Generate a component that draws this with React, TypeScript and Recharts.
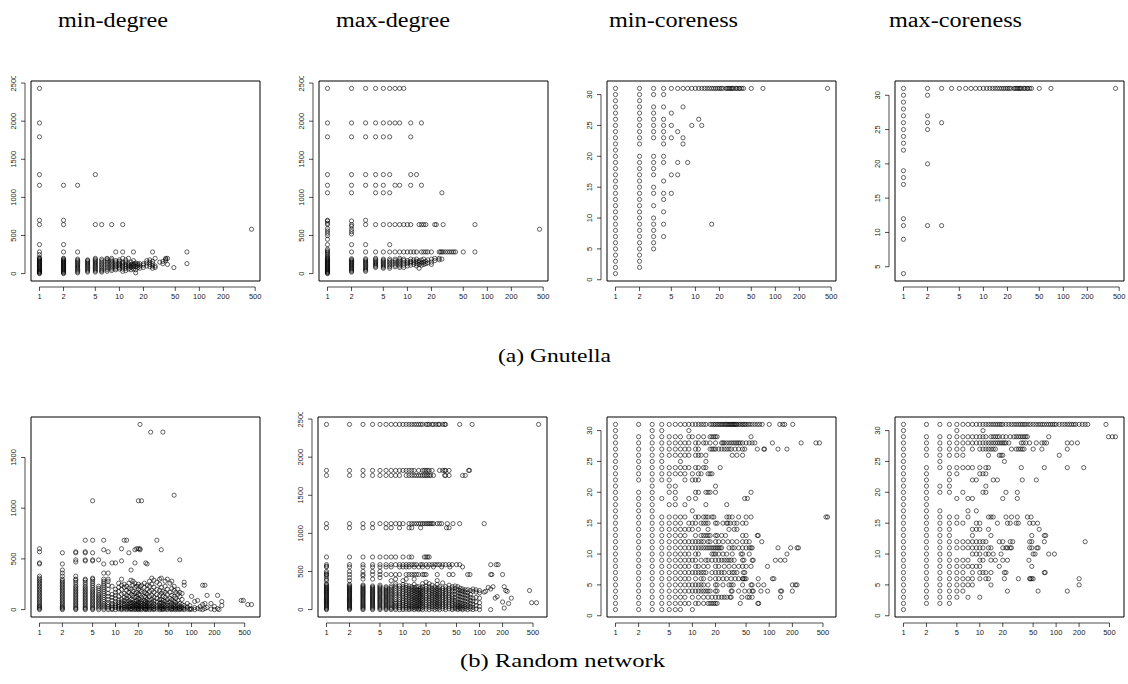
import React from 'react';
import { ScatterChart, Scatter, XAxis, YAxis, ReferenceArea, ReferenceLine } from 'recharts';

type Pt = { x: number; y: number };
type Group = [number, number[]];

// column groups: [x, ys], row groups: [y, xs]
const cols = (g: Group[]): Pt[] => g.flatMap(([x, ys]) => ys.map((y) => ({ x, y })));
const rows = (g: Group[]): Pt[] => g.flatMap(([y, xs]) => xs.map((x) => ({ x, y })));

const xTicks = [1, 2, 5, 10, 20, 50, 100, 200, 500];
const degreeTicks = [0, 500, 1000, 1500, 2000, 2500];
const degreeTicksLow = [0, 500, 1000, 1500];
const corenessTicks = [0, 5, 10, 15, 20, 25, 30];
const corenessTicksHigh = [5, 10, 15, 20, 25, 30];

const titles = ['min-degree', 'max-degree', 'min-coreness', 'max-coreness'];

// ---- (a) Gnutella ----
const gnuMinDegree: Group[] = [
  [1, [0, 8, 16, 24, 32, 40, 50, 60, 70, 80, 90, 100, 110, 120, 130, 140, 150, 160, 170, 180, 190, 200, 210, 249, 284, 381, 643, 700, 1159, 1299, 1794, 1977, 2430]],
  [2, [0, 10, 20, 30, 40, 50, 60, 70, 80, 90, 100, 110, 120, 130, 140, 150, 160, 170, 180, 190, 200, 284, 381, 643, 700, 1159]],
  [3, [10, 25, 40, 55, 70, 85, 100, 115, 130, 145, 160, 175, 190, 284, 1159]],
  [4, [20, 35, 50, 65, 80, 95, 110, 125, 140, 155, 170, 180]],
  [5, [20, 35, 50, 65, 80, 95, 110, 125, 140, 155, 170, 185, 200, 643, 1299]],
  [6, [20, 35, 50, 70, 90, 110, 130, 150, 170, 190, 643]],
  [7, [30, 50, 70, 90, 110, 130, 150, 170, 190, 200]],
  [8, [40, 60, 80, 100, 120, 140, 160, 180, 200, 643]],
  [9, [50, 70, 90, 110, 130, 150, 170, 284]],
  [10, [60, 80, 100, 120, 140, 160, 180]],
  [11, [30, 60, 90, 110, 130, 150, 200, 284, 643]],
  [12, [40, 70, 100, 120, 150, 180]],
  [13, [60, 90, 110, 130, 200]],
  [14, [50, 80, 100, 120, 150]],
  [15, [60, 90, 110, 130, 170, 284]],
  [16, [10, 50, 90, 120, 140]],
  [17, [80, 110, 130]],
  [18, [70, 100, 130]],
  [20, [80, 110, 130]],
  [22, [100, 140, 170]],
  [24, [90, 120, 150, 180]],
  [26, [70, 100, 130, 160, 284]],
  [28, [80, 100, 200]],
  [32, [150]],
  [35, [130, 160]],
  [38, [170, 190, 200]],
  [40, [120, 200]],
  [48, [79]],
  [70, [131, 284]],
  [450, [582]],
];

const gnuMaxDegreeRows: Group[] = [
  [2430, [1, 2, 3, 4, 5, 6, 7, 8, 9]],
  [1977, [1, 2, 3, 4, 5, 6, 7, 8, 11, 15]],
  [1794, [1, 2, 3, 4, 5, 6, 11]],
  [1299, [1, 2, 3, 4, 5, 6, 11, 13]],
  [1159, [1, 2, 3, 4, 5, 7, 8, 11, 15]],
  [1060, [1, 2, 4, 5, 6, 27]],
  [643, [1, 2, 3, 4, 5, 6, 7, 8, 9, 10, 11, 14, 15, 16, 17, 22, 23, 28, 70]],
  [582, [450]],
  [284, [1, 2, 3, 4, 5, 6, 7, 8, 9, 10, 11, 12, 13, 15, 16, 17, 18, 20, 25, 26, 27, 28, 30, 32, 34, 36, 38, 40, 50, 70]],
];
const gnuMaxDegreeCols: Group[] = [
  [1, [0, 8, 16, 25, 34, 43, 52, 62, 72, 82, 92, 102, 112, 122, 132, 142, 152, 162, 172, 182, 192, 202, 215, 230, 250, 270, 300, 320, 380, 450, 500, 530, 560, 590, 660, 690, 700]],
  [2, [20, 32, 45, 58, 70, 82, 95, 108, 120, 132, 145, 158, 170, 182, 195, 380, 520, 550, 580, 620, 690]],
  [3, [30, 45, 60, 75, 90, 105, 120, 135, 150, 165, 180, 195, 380, 700]],
  [4, [80, 95, 110, 125, 140, 155, 170, 185, 200]],
  [5, [70, 85, 100, 115, 130, 145, 160, 175, 190]],
  [6, [70, 90, 110, 130, 150, 170, 190, 380]],
  [7, [90, 110, 130, 150, 170, 190]],
  [8, [80, 100, 120, 140, 160, 180, 200]],
  [9, [80, 110, 140, 170, 190]],
  [10, [100, 130, 150, 170]],
  [11, [110, 140, 160, 190]],
  [12, [120, 150, 180]],
  [13, [100, 130, 160, 190]],
  [14, [70, 120, 150, 170]],
  [15, [110, 140, 180]],
  [16, [120, 150, 190]],
  [17, [130, 160]],
  [18, [140, 180]],
  [20, [120, 150, 190]],
  [22, [170, 200]],
  [25, [180, 200]],
  [27, [190]],
];

const gnuMinCoreness: Group[] = [
  [1, [1, 2, 3, 4, 5, 6, 7, 8, 9, 10, 11, 12, 13, 14, 15, 16, 17, 18, 19, 20, 21, 22, 23, 24, 25, 26, 27, 28, 29, 30, 31]],
  [2, [2, 3, 4, 5, 6, 7, 8, 9, 10, 11, 12, 13, 14, 15, 16, 17, 18, 19, 20, 22, 23, 24, 25, 26, 27, 28, 29, 30, 31]],
  [3, [5, 6, 7, 8, 9, 10, 12, 14, 15, 17, 18, 19, 20, 23, 24, 25, 26, 27, 28, 30, 31]],
  [4, [7, 9, 11, 13, 14, 16, 19, 20, 22, 23, 24, 25, 26, 28, 30, 31]],
  [5, [14, 17, 23, 25, 27, 31]],
  [6, [17, 19, 24, 31]],
  [7, [22, 23, 28, 31]],
  [8, [19, 31]],
  [9, [25, 31]],
  [10, [31]],
  [11, [26, 31]],
  [12, [25, 31]],
  [16, [9, 31]],
];
const gnuMinCorenessTop: Group[] = [
  [31, [13, 14, 15, 17, 18, 19, 20, 21, 22, 24, 25, 26, 27, 28, 29, 30, 32, 33, 35, 36, 38, 40, 50, 70, 450]],
];

const gnuMaxCoreness: Group[] = [
  [1, [4, 9, 11, 12, 17, 18, 19, 22, 23, 24, 25, 26, 27, 28, 29, 30, 31]],
  [2, [11, 20, 25, 26, 27, 30, 31]],
  [3, [11, 26, 31]],
];
const gnuMaxCorenessTop: Group[] = [
  [31, [4, 5, 6, 7, 8, 9, 10, 11, 12, 13, 14, 15, 16, 17, 18, 19, 20, 21, 22, 24, 25, 26, 27, 28, 29, 30, 32, 33, 35, 36, 38, 40, 50, 70, 450]],
];

// ---- (b) Random network ----
const rndMinDegree: Group[] = [
  [1, [0, 10, 20, 30, 40, 55, 70, 85, 100, 115, 130, 145, 160, 175, 190, 205, 220, 235, 250, 265, 280, 295, 310, 330, 450, 460, 570, 600]],
  [2, [0, 10, 20, 30, 45, 60, 75, 90, 105, 120, 135, 150, 165, 180, 195, 210, 225, 240, 255, 270, 285, 300, 330, 360, 390, 450, 560]],
  [3, [0, 10, 20, 35, 50, 65, 80, 95, 110, 125, 140, 155, 170, 185, 200, 215, 230, 250, 270, 290, 300, 330, 470, 490, 560, 570]],
  [4, [0, 10, 20, 35, 50, 65, 80, 95, 110, 125, 140, 155, 170, 185, 200, 215, 230, 250, 270, 290, 300, 480, 490, 560, 570, 684]],
  [5, [0, 10, 20, 35, 50, 65, 80, 95, 110, 125, 140, 155, 170, 185, 200, 220, 240, 260, 280, 300, 310, 480, 490, 560, 684, 1073]],
  [6, [0, 15, 30, 45, 60, 75, 90, 105, 120, 135, 150, 170, 190, 210, 230, 490]],
  [7, [0, 15, 30, 45, 60, 80, 100, 120, 140, 160, 180, 200, 220, 240, 260, 280, 300, 360, 450, 590, 684]],
  [8, [0, 15, 30, 50, 70, 100, 130, 160, 200, 240, 280, 300, 360, 570]],
  [9, [0, 10, 25, 40, 60, 90, 120, 150, 230, 460]],
  [10, [0, 20, 35, 55, 80, 110, 140, 170, 200, 460]],
  [11, [5, 15, 30, 45, 70, 95, 130, 180, 220, 260]],
  [12, [0, 10, 25, 50, 75, 100, 150, 200, 240, 300, 480, 600]],
  [13, [5, 20, 40, 60, 90, 120, 160, 220, 250, 684]],
  [14, [0, 15, 30, 55, 80, 110, 140, 190, 230, 684]],
  [15, [5, 20, 35, 60, 85, 130, 170, 210, 260, 560]],
  [16, [0, 10, 30, 50, 70, 100, 150, 200, 290, 390]],
  [17, [5, 25, 45, 65, 95, 140, 180, 240, 280]],
  [18, [0, 15, 35, 55, 80, 120, 160, 220, 260, 460, 590]],
  [19, [5, 20, 40, 60, 90, 130, 170, 230, 600]],
  [20, [0, 10, 30, 50, 75, 110, 150, 200, 250, 600, 1073]],
  [21, [5, 25, 45, 70, 100, 140, 190, 230, 590, 600, 1826]],
  [22, [0, 15, 35, 60, 85, 120, 180, 240, 1073]],
  [24, [5, 20, 40, 65, 90, 130, 170, 220, 260]],
  [25, [0, 10, 30, 55, 80, 120, 160, 460]],
  [26, [5, 25, 45, 70, 100, 150, 200, 240, 450]],
  [28, [0, 15, 35, 60, 90, 130, 180, 230, 280]],
  [29, [1750]],
  [30, [5, 20, 40, 70, 100, 140, 190, 250, 310]],
  [32, [0, 10, 30, 55, 85, 120, 170, 220, 290]],
  [35, [5, 25, 45, 75, 110, 150, 200, 270, 684]],
  [38, [0, 15, 35, 60, 95, 140, 190, 250, 300]],
  [40, [5, 20, 40, 70, 100, 160, 220, 310, 590]],
  [42, [0, 10, 30, 55, 90, 130, 180, 1750]],
  [45, [5, 25, 50, 80, 120, 170, 230, 280]],
  [48, [0, 15, 40, 65, 100, 150, 200, 300]],
  [52, [5, 20, 45, 75, 110, 170, 260]],
  [55, [0, 10, 30, 60, 95, 140, 210, 280]],
  [59, [5, 25, 50, 80, 130, 190, 230, 1128]],
  [62, [0, 15, 35, 70, 110, 170]],
  [66, [5, 20, 45, 90, 150, 200]],
  [70, [0, 10, 30, 60, 130, 170, 490]],
  [75, [5, 20, 50, 100, 160]],
  [80, [0, 15, 40, 240, 270]],
  [88, [5, 25, 60]],
  [95, [0, 10, 40]],
  [100, [5, 130]],
  [110, [0, 20, 80]],
  [120, [10, 90]],
  [130, [5, 30]],
  [140, [0, 50, 240]],
  [150, [10, 60, 240]],
  [160, [20, 140]],
  [180, [5, 60]],
  [200, [0, 30]],
  [220, [10, 140]],
  [230, [0]],
  [250, [40, 80]],
  [450, [90]],
  [480, [90]],
  [550, [50]],
  [615, [50]],
];

const rndMaxDegreeRows: Group[] = [
  [2430, [1, 2, 3, 4, 5, 6, 7, 8, 9, 10, 11, 12, 13, 14, 15, 16, 17, 18, 20, 21, 22, 24, 25, 27, 29, 30, 33, 35, 36, 55, 80, 590]],
  [1826, [1, 2, 3, 4, 5, 6, 7, 8, 9, 10, 11, 12, 13, 14, 16, 18, 19, 20, 21, 22, 24, 30, 33, 35, 36, 40, 72, 74]],
  [1760, [1, 2, 3, 4, 5, 6, 7, 8, 9, 11, 12, 13, 14, 15, 16, 17, 18, 19, 20, 21, 22, 23, 25, 35, 36, 40, 60, 65]],
  [1128, [1, 2, 3, 4, 5, 6, 7, 8, 9, 10, 12, 13, 14, 15, 16, 17, 18, 19, 20, 21, 22, 23, 24, 25, 28, 30, 32, 38, 45, 55, 115]],
  [1073, [1, 2, 3, 4, 6, 7, 9, 12, 13, 17, 37, 40]],
  [690, [1, 2, 3, 4, 5, 6, 7, 8, 10, 12, 13, 19, 20, 21, 22]],
  [590, [1, 2, 3, 4, 5, 6, 7, 8, 9, 10, 11, 12, 13, 14, 15, 17, 18, 20, 22, 24, 26, 28, 30, 33, 36, 40, 44, 50, 55, 140, 165, 175]],
  [560, [1, 2, 3, 4, 5, 6, 7, 9, 10, 11, 12, 14, 16, 18, 21, 25, 32, 41, 60]],
  [460, [1, 2, 3, 4, 5, 6, 7, 8, 9, 11, 12, 13, 14, 15, 16, 18, 19, 20, 28, 40, 45, 70, 75, 140, 145, 200]],
];
const rndMaxDegreeCols: Group[] = [
  [1, [0, 10, 22, 34, 46, 58, 70, 82, 94, 106, 118, 130, 142, 154, 166, 178, 190, 202, 214, 226, 238, 250, 262, 274, 286, 298, 312, 326, 340, 380, 400, 430, 455, 480, 500, 570]],
  [2, [0, 12, 24, 36, 48, 60, 72, 84, 96, 108, 120, 132, 144, 156, 168, 180, 192, 204, 216, 228, 240, 252, 264, 276, 288, 300, 315, 330, 380, 420, 500]],
  [3, [0, 14, 28, 42, 56, 70, 84, 98, 112, 126, 140, 154, 168, 182, 196, 210, 224, 238, 252, 266, 280, 294, 308, 322, 400, 440, 500]],
  [4, [0, 14, 28, 42, 56, 70, 84, 98, 112, 126, 140, 154, 168, 182, 196, 210, 224, 238, 252, 266, 280, 294, 310, 400, 500]],
  [5, [0, 15, 30, 45, 60, 75, 90, 105, 120, 135, 150, 165, 180, 195, 210, 225, 240, 255, 270, 285, 300, 320, 420, 500]],
  [6, [0, 15, 30, 45, 60, 75, 90, 105, 120, 135, 150, 165, 180, 195, 210, 225, 240, 255, 270, 285, 300]],
  [7, [0, 15, 30, 50, 70, 90, 110, 130, 150, 170, 190, 210, 230, 250, 270, 290, 310, 380]],
  [8, [0, 20, 40, 60, 80, 100, 130, 160, 190, 220, 250, 280, 310, 340, 400]],
  [9, [0, 25, 50, 75, 100, 130, 160, 190, 220, 250, 280, 310]],
  [10, [0, 20, 45, 70, 95, 120, 150, 180, 210, 240, 270, 300, 330, 380]],
  [11, [5, 30, 55, 80, 110, 140, 170, 200, 230, 260, 290, 320, 400]],
  [12, [0, 20, 45, 70, 100, 130, 160, 190, 220, 250, 280, 310]],
  [13, [10, 35, 60, 90, 120, 150, 180, 210, 240, 270, 300]],
  [14, [0, 25, 50, 80, 110, 140, 170, 200, 230, 260, 290, 330, 400]],
  [15, [10, 35, 60, 90, 120, 150, 180, 210, 240, 270, 300]],
  [16, [0, 20, 50, 80, 110, 140, 170, 200, 230, 260, 300]],
  [17, [10, 40, 70, 100, 130, 160, 190, 220, 250, 280]],
  [18, [0, 30, 60, 90, 120, 150, 180, 210, 240, 270, 300, 340]],
  [20, [5, 35, 65, 95, 125, 155, 185, 215, 245, 275, 305, 360]],
  [22, [0, 30, 60, 90, 120, 150, 180, 210, 240, 270, 300, 340]],
  [24, [10, 40, 70, 100, 130, 160, 190, 220, 250, 280, 320]],
  [26, [0, 30, 60, 90, 120, 150, 180, 210, 240, 270, 300]],
  [28, [10, 40, 70, 100, 130, 160, 190, 220, 250, 280, 330, 380]],
  [30, [0, 30, 60, 90, 120, 150, 180, 210, 240, 270, 300]],
  [33, [10, 40, 70, 100, 130, 160, 190, 220, 250, 280, 350]],
  [36, [0, 30, 60, 90, 120, 150, 180, 210, 240, 270, 300]],
  [40, [10, 40, 70, 100, 130, 160, 190, 220, 250, 280, 320]],
  [44, [0, 20, 50, 80, 110, 140, 170, 200, 240, 270, 300]],
  [48, [10, 30, 60, 90, 120, 160, 200, 240, 280, 310]],
  [52, [0, 20, 40, 70, 100, 140, 180, 220, 260, 300]],
  [56, [10, 30, 60, 90, 130, 170, 210, 250, 280]],
  [60, [0, 20, 50, 80, 120, 160, 200, 240, 270]],
  [65, [10, 40, 70, 110, 150, 190, 230, 260]],
  [70, [0, 30, 60, 100, 140, 180, 220, 260]],
  [76, [10, 40, 80, 120, 160, 200, 250]],
  [82, [0, 30, 70, 110, 150, 240, 270]],
  [90, [10, 50, 100, 160, 230, 260]],
  [100, [0, 40, 90, 150, 220, 250]],
  [115, [230]],
  [120, [240]],
  [130, [290]],
  [140, [0, 270]],
  [150, [300]],
  [160, [150]],
  [170, [170]],
  [200, [100]],
  [210, [20, 300]],
  [220, [250]],
  [230, [240]],
  [240, [80]],
  [260, [150]],
  [450, [250]],
  [480, [90]],
  [555, [90]],
];

const rndMinCoreness: Group[] = [
  [31, [1, 2, 3, 4, 5, 6, 7, 8, 9, 10, 11, 12, 13, 14, 15, 17, 18, 19, 20, 21, 22, 23, 24, 25, 26, 27, 28, 29, 30, 31, 32, 33, 34, 35, 36, 37, 38, 40, 42, 44, 46, 48, 50, 53, 56, 60, 65, 70, 75, 81, 100, 137, 150, 159, 202]],
  [30, [1, 3, 4, 9]],
  [29, [1, 2, 3, 4, 5, 6, 7, 9, 10, 12, 14, 17, 18, 19, 20, 21, 58]],
  [28, [1, 2, 3, 4, 5, 6, 7, 8, 9, 11, 12, 14, 15, 17, 20, 24, 25, 26, 28, 30, 32, 34, 36, 38, 40, 42, 45, 50, 55, 60, 65, 110, 260, 405, 450]],
  [27, [1, 2, 3, 4, 5, 6, 7, 8, 9, 11, 12, 17, 18, 19, 20, 22, 24, 26, 28, 30, 32, 36, 40, 45, 48, 70, 85, 87, 130, 170]],
  [26, [1, 2, 3, 4, 5, 6, 7, 8, 9, 11, 12, 13, 15, 33, 38, 45]],
  [25, [1, 2, 3, 4, 7, 15]],
  [24, [1, 2, 3, 4, 5, 6, 7, 8, 9, 11, 12, 14, 15, 23]],
  [23, [1, 2, 3, 4, 5, 6, 7, 8, 10, 12, 13, 16, 17, 18]],
  [22, [1, 2, 3, 4, 5, 8, 10, 11, 12]],
  [21, [1, 3, 5, 6, 20]],
  [20, [1, 2, 3, 5, 6, 11, 12, 15, 16, 17, 20, 58]],
  [19, [1, 2, 3, 4, 6, 9, 11, 48, 52]],
  [18, [1, 2, 3, 5, 6, 8, 15, 28]],
  [17, [1, 2, 3, 10]],
  [16, [1, 2, 3, 4, 5, 6, 7, 8, 11, 12, 14, 15, 16, 18, 19, 28, 30, 33, 40, 50, 58, 546, 573]],
  [15, [1, 2, 3, 4, 5, 6, 7, 9, 10, 11, 13, 14, 15, 16, 20, 21, 25, 28, 29, 31, 35, 38, 45, 50]],
  [14, [1, 2, 3, 4, 5, 6, 7, 8, 9, 10, 12, 16, 30, 35, 38]],
  [13, [1, 2, 3, 4, 5, 6, 7, 8, 11, 13, 14, 15, 16, 17, 20, 21, 24, 27, 45, 50, 70, 72]],
  [12, [1, 2, 3, 4, 5, 6, 7, 8, 9, 10, 11, 12, 13, 14, 16, 17, 20, 22, 25, 29, 33, 38, 45, 50, 55, 80]],
  [11, [1, 2, 3, 4, 5, 6, 7, 8, 9, 10, 11, 12, 13, 14, 15, 16, 17, 18, 19, 20, 21, 22, 23, 24, 30, 33, 35, 40, 45, 50, 55, 58, 60, 130, 190, 230, 240]],
  [10, [1, 2, 3, 4, 5, 6, 7, 8, 9, 11, 12, 18, 19, 20, 22, 25, 28, 33, 43, 45, 55, 170]],
  [9, [1, 2, 3, 4, 5, 6, 7, 8, 9, 10, 11, 13, 15, 16, 18, 20, 22, 24, 26, 28, 30, 32, 35, 45, 47, 60, 62, 120, 140, 160]],
  [8, [1, 2, 3, 4, 5, 6, 7, 8, 9, 11, 12, 14, 16, 20, 22, 26, 30, 35, 40, 45, 50, 58, 95]],
  [7, [1, 2, 3, 4, 5, 6, 7, 8, 9, 10, 11, 12, 13, 14, 15, 18, 20, 22, 24, 26, 30, 33, 35, 38, 46, 48]],
  [6, [1, 2, 3, 4, 5, 6, 7, 8, 9, 11, 13, 14, 17, 20, 22, 25, 28, 32, 36, 40, 45, 46, 48, 50, 72, 110, 115]],
  [5, [1, 2, 3, 4, 5, 6, 7, 8, 9, 10, 11, 12, 13, 14, 16, 20, 21, 25, 30, 32, 34, 45, 58, 60, 72, 85, 200, 220, 230]],
  [4, [1, 2, 3, 4, 5, 6, 7, 8, 9, 10, 11, 12, 13, 14, 15, 16, 17, 20, 21, 32, 33, 40, 48, 55, 60, 62, 78, 95, 140, 145, 200]],
  [3, [1, 2, 3, 4, 5, 6, 7, 8, 10, 12, 14, 16, 18, 20, 22, 24, 26, 28, 31, 32, 44, 52, 55, 60, 140]],
  [2, [1, 2, 3, 4, 5, 6, 7, 8, 9, 11, 12, 14, 16, 17, 18, 19, 20, 21, 42, 71, 73]],
  [1, [1, 2, 3, 4, 5, 6, 7, 10]],
];

const rndMaxCoreness: Group[] = [
  [31, [1, 2, 3, 4, 5, 6, 7, 8, 9, 10, 11, 12, 13, 14, 15, 16, 17, 18, 19, 20, 22, 24, 26, 28, 30, 32, 34, 36, 38, 40, 43, 46, 50, 54, 58, 62, 66, 70, 75, 80, 85, 90, 95, 100, 110, 120, 130, 140, 150, 160, 170, 180, 200, 220, 240, 260, 450]],
  [30, [1, 5, 11]],
  [29, [1, 2, 3, 4, 5, 6, 7, 8, 9, 10, 11, 12, 14, 15, 16, 17, 18, 20, 22, 25, 28, 30, 32, 34, 36, 38, 40, 42, 80, 485, 545, 600]],
  [28, [1, 2, 3, 4, 5, 6, 7, 8, 9, 10, 11, 12, 13, 14, 15, 16, 17, 18, 19, 20, 21, 22, 24, 35, 37, 40, 45, 55, 65, 70, 75, 140, 160, 190]],
  [27, [1, 2, 3, 4, 5, 6, 8, 10, 11, 12, 13, 14, 15, 16, 26, 30, 32, 34, 36, 38, 50, 65, 140]],
  [26, [1, 2, 3, 4, 5, 6, 13, 18, 19, 20, 110]],
  [25, [1, 3, 21]],
  [24, [1, 2, 3, 4, 5, 6, 7, 8, 10, 12, 13, 35, 70, 140, 230]],
  [23, [1, 2, 4, 5, 10, 11, 12]],
  [22, [1, 2, 4, 8, 9, 15, 17, 36, 55]],
  [21, [1, 2, 3, 4, 12]],
  [20, [1, 2, 3, 4, 6, 11, 12, 22, 31]],
  [19, [1, 2, 5, 7, 8, 20, 31]],
  [18, [1, 2]],
  [17, [1, 2, 3, 7, 9]],
  [16, [1, 2, 3, 4, 5, 7, 13, 14, 15, 22, 26, 31, 42, 47]],
  [15, [1, 2, 3, 4, 5, 6, 9, 10, 17, 23, 25, 30, 32, 45, 50, 57]],
  [14, [1, 2, 3, 4, 8, 9, 10, 13, 60]],
  [13, [1, 2, 3, 4, 8, 14, 48, 70, 73]],
  [12, [1, 2, 3, 4, 5, 6, 7, 8, 9, 10, 11, 12, 18, 20, 25, 27, 45, 48, 70, 240]],
  [11, [1, 2, 3, 4, 5, 6, 7, 8, 9, 10, 11, 13, 14, 20, 22, 23, 25, 26, 45, 48, 56, 58]],
  [10, [1, 2, 3, 4, 8, 9, 10, 12, 13, 15, 19, 50, 53, 80, 95]],
  [9, [1, 2, 3, 4, 5, 6, 7, 10, 11, 14, 16, 20, 23, 44]],
  [8, [1, 2, 3, 4, 5, 6, 7, 8, 9, 10, 18, 48]],
  [7, [1, 2, 3, 4, 5, 6, 8, 10, 11, 12, 14, 21, 22, 70, 72]],
  [6, [1, 2, 3, 4, 5, 6, 7, 8, 10, 12, 13, 21, 32, 45, 46, 48, 50, 200]],
  [5, [1, 2, 3, 4, 5, 6, 7, 8, 14, 200]],
  [4, [1, 2, 3, 4, 5, 6, 23, 58, 140]],
  [3, [1, 2, 3, 4, 5, 7, 10]],
  [2, [1, 2, 3, 4]],
  [1, [1]],
];

const panels = [
  { data: cols(gnuMinDegree), left: 31, top: 81, yTicks: degreeTicks },
  { data: [...rows(gnuMaxDegreeRows), ...cols(gnuMaxDegreeCols)], left: 319, top: 81, yTicks: degreeTicks },
  { data: [...cols(gnuMinCoreness), ...rows(gnuMinCorenessTop)], left: 607, top: 81, yTicks: corenessTicks },
  { data: [...cols(gnuMaxCoreness), ...rows(gnuMaxCorenessTop)], left: 895, top: 81, yTicks: corenessTicksHigh },
  { data: cols(rndMinDegree), left: 31, top: 417, yTicks: degreeTicksLow },
  { data: [...rows(rndMaxDegreeRows), ...cols(rndMaxDegreeCols)], left: 318, top: 417, yTicks: degreeTicks },
  { data: rows(rndMinCoreness), left: 607, top: 417, yTicks: corenessTicks },
  { data: rows(rndMaxCoreness), left: 895, top: 417, yTicks: corenessTicks },
];

const BOX_W = 229;
const BOX_H = 200;
const Y_W = 30;
const X_H = 30;
const PAD = 5;
const GAP = 6;
const TICK = 4;
const tickFont = "'Liberation Sans', Arial, sans-serif";

// R-style 4% extension of the data range
const logDomain = (pts: Pt[]): [number, number] => {
  const v = pts.map((p) => Math.log10(p.x));
  const lo = Math.min(...v);
  const hi = Math.max(...v);
  const d = (hi - lo) * 0.04;
  return [Math.pow(10, lo - d), Math.pow(10, hi + d)];
};
const linDomain = (pts: Pt[]): [number, number] => {
  const v = pts.map((p) => p.y);
  const lo = Math.min(...v);
  const hi = Math.max(...v);
  const d = (hi - lo) * 0.04;
  return [lo - d, hi + d];
};

const XTick = (p: any) => (
  <g>
    <line x1={p.x} x2={p.x} y1={p.y + GAP} y2={p.y + GAP + TICK} stroke="#000" strokeWidth={0.7} />
    <text x={p.x} y={p.y + 18} textAnchor="middle" fontSize={7.5} fontFamily={tickFont} fill="#222">
      {p.payload.value}
    </text>
  </g>
);

const YTick = (p: any) => (
  <g>
    <line x1={p.x - GAP} x2={p.x - GAP - TICK} y1={p.y} y2={p.y} stroke="#000" strokeWidth={0.7} />
    <text
      transform={`translate(${p.x - 15.5},${p.y}) rotate(-90)`}
      textAnchor="middle"
      fontSize={7.5}
      fontFamily={tickFont}
      fill="#222"
    >
      {p.payload.value}
    </text>
  </g>
);

const Dot = (p: any) => <circle cx={p.cx} cy={p.cy} r={2.1} fill="none" stroke="#000" strokeWidth={0.6} />;

const Panel: React.FC<{ data: Pt[]; left: number; top: number; yTicks: number[] }> = ({ data, left, top, yTicks }) => {
  const xd = logDomain(data);
  const yd = linDomain(data);
  return (
    <div style={{ position: 'absolute', left: left - Y_W, top: top - PAD }}>
      <ScatterChart
        width={BOX_W + Y_W + PAD}
        height={BOX_H + PAD + X_H}
        margin={{ top: PAD, right: PAD, bottom: 0, left: 0 }}
      >
        <XAxis
          type="number"
          dataKey="x"
          scale="log"
          domain={xd}
          ticks={xTicks}
          interval={0}
          allowDataOverflow
          axisLine={false}
          tickLine={false}
          tickSize={0}
          tickMargin={0}
          height={X_H}
          tick={<XTick />}
        />
        <YAxis
          type="number"
          dataKey="y"
          domain={yd}
          ticks={yTicks}
          interval={0}
          allowDataOverflow
          axisLine={false}
          tickLine={false}
          tickSize={0}
          tickMargin={0}
          width={Y_W}
          tick={<YTick />}
        />
        <ReferenceArea x1={xd[0]} x2={xd[1]} y1={yd[0]} y2={yd[1]} fill="none" stroke="#000" strokeWidth={1} ifOverflow="visible" />
        <ReferenceLine
          segment={[{ x: xTicks[0], y: yd[0] }, { x: xTicks[xTicks.length - 1], y: yd[0] }]}
          ifOverflow="visible"
          shape={(s: any) => <line x1={s.x1} x2={s.x2} y1={s.y1 + GAP} y2={s.y2 + GAP} stroke="#000" strokeWidth={0.7} />}
        />
        <ReferenceLine
          segment={[{ x: xd[0], y: yTicks[0] }, { x: xd[0], y: yTicks[yTicks.length - 1] }]}
          ifOverflow="visible"
          shape={(s: any) => <line x1={s.x1 - GAP} x2={s.x2 - GAP} y1={s.y1} y2={s.y2} stroke="#000" strokeWidth={0.7} />}
        />
        <Scatter data={data} shape={Dot} isAnimationActive={false} />
      </ScatterChart>
    </div>
  );
};

const titleX = [58, 336, 609, 889];
const titleW = [110, 114, 129, 133];
const serif = "'Liberation Serif', 'Times New Roman', serif";

export default function App() {
  return (
    <div style={{ position: 'absolute', left: 0, top: 0, width: 1128, height: 684, background: '#fff', overflow: 'hidden' }}>
      {panels.map((p, i) => (
        <Panel key={i} data={p.data} left={p.left} top={p.top} yTicks={p.yTicks} />
      ))}
      <svg width={1128} height={684} style={{ position: 'absolute', left: 0, top: 0, pointerEvents: 'none' }}>
        {titles.map((t, i) => (
          <text key={t} x={titleX[i]} y={27} fontSize={20} fontFamily={serif} textLength={titleW[i]} lengthAdjust="spacingAndGlyphs">
            {t}
          </text>
        ))}
        <text x={498} y={362} fontSize={18} fontFamily={serif} textLength={113} lengthAdjust="spacingAndGlyphs">
          (a) Gnutella
        </text>
        <text x={460} y={667} fontSize={18} fontFamily={serif} textLength={205} lengthAdjust="spacingAndGlyphs">
          (b) Random network
        </text>
      </svg>
    </div>
  );
}
